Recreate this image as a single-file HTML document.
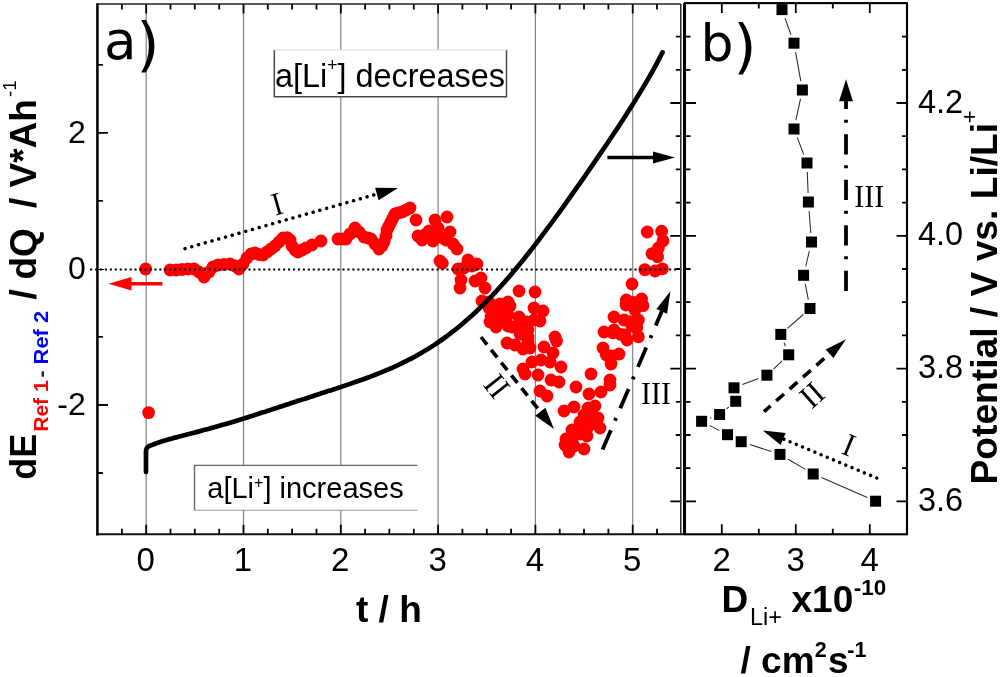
<!DOCTYPE html>
<html lang="en"><head><meta charset="utf-8"><title>Figure</title>
<style>html,body{margin:0;padding:0;background:#fff}body{width:1000px;height:677px;overflow:hidden}svg{display:block}svg text{white-space:pre}</style>
</head><body>
<svg width="1000" height="677" viewBox="0 0 1000 677" style="display:block">
<rect width="1000" height="677" fill="#fff"/>
<line x1="146.2" y1="4.0" x2="146.2" y2="534.3" stroke="#828282" stroke-width="1.2"/>
<line x1="243.5" y1="4.0" x2="243.5" y2="534.3" stroke="#828282" stroke-width="1.2"/>
<line x1="340.8" y1="4.0" x2="340.8" y2="534.3" stroke="#828282" stroke-width="1.2"/>
<line x1="438.1" y1="4.0" x2="438.1" y2="534.3" stroke="#828282" stroke-width="1.2"/>
<line x1="535.4" y1="4.0" x2="535.4" y2="534.3" stroke="#828282" stroke-width="1.2"/>
<line x1="632.7" y1="4.0" x2="632.7" y2="534.3" stroke="#828282" stroke-width="1.2"/>
<g fill="#f00">
<circle cx="145.6" cy="269.0" r="6.4"/>
<circle cx="148.6" cy="412.6" r="6.4"/>
<circle cx="170.0" cy="270.0" r="6.4"/>
<circle cx="176.0" cy="270.0" r="6.4"/>
<circle cx="182.0" cy="269.5" r="6.4"/>
<circle cx="188.0" cy="269.0" r="6.4"/>
<circle cx="194.0" cy="269.0" r="6.4"/>
<circle cx="199.0" cy="272.0" r="6.4"/>
<circle cx="204.0" cy="277.0" r="6.4"/>
<circle cx="209.0" cy="272.0" r="6.4"/>
<circle cx="213.0" cy="267.0" r="6.4"/>
<circle cx="218.0" cy="265.0" r="6.4"/>
<circle cx="224.0" cy="264.5" r="6.4"/>
<circle cx="230.0" cy="264.0" r="6.4"/>
<circle cx="235.0" cy="266.0" r="6.4"/>
<circle cx="239.0" cy="269.0" r="6.4"/>
<circle cx="243.0" cy="264.0" r="6.4"/>
<circle cx="247.0" cy="258.0" r="6.4"/>
<circle cx="251.0" cy="254.0" r="6.4"/>
<circle cx="255.0" cy="253.0" r="6.4"/>
<circle cx="259.0" cy="254.5" r="6.4"/>
<circle cx="263.0" cy="255.0" r="6.4"/>
<circle cx="267.0" cy="252.0" r="6.4"/>
<circle cx="271.0" cy="249.0" r="6.4"/>
<circle cx="275.0" cy="246.0" r="6.4"/>
<circle cx="279.0" cy="242.0" r="6.4"/>
<circle cx="283.0" cy="238.0" r="6.4"/>
<circle cx="287.0" cy="237.6" r="6.4"/>
<circle cx="290.0" cy="240.0" r="6.4"/>
<circle cx="292.0" cy="246.0" r="6.4"/>
<circle cx="295.0" cy="250.0" r="6.4"/>
<circle cx="298.0" cy="252.0" r="6.4"/>
<circle cx="302.0" cy="250.0" r="6.4"/>
<circle cx="306.0" cy="248.0" r="6.4"/>
<circle cx="312.0" cy="245.0" r="6.4"/>
<circle cx="321.0" cy="241.0" r="6.4"/>
<circle cx="338.0" cy="239.0" r="6.4"/>
<circle cx="342.0" cy="239.0" r="6.4"/>
<circle cx="346.0" cy="239.0" r="6.4"/>
<circle cx="350.0" cy="234.0" r="6.4"/>
<circle cx="355.0" cy="228.0" r="6.4"/>
<circle cx="359.0" cy="232.0" r="6.4"/>
<circle cx="364.0" cy="237.0" r="6.4"/>
<circle cx="368.0" cy="238.0" r="6.4"/>
<circle cx="371.0" cy="239.0" r="6.4"/>
<circle cx="375.0" cy="244.0" r="6.4"/>
<circle cx="379.0" cy="249.0" r="6.4"/>
<circle cx="382.0" cy="246.0" r="6.4"/>
<circle cx="384.0" cy="242.0" r="6.4"/>
<circle cx="386.0" cy="236.0" r="6.4"/>
<circle cx="387.0" cy="230.0" r="6.4"/>
<circle cx="389.0" cy="226.0" r="6.4"/>
<circle cx="391.0" cy="222.0" r="6.4"/>
<circle cx="393.0" cy="218.0" r="6.4"/>
<circle cx="395.0" cy="214.0" r="6.4"/>
<circle cx="398.0" cy="213.0" r="6.4"/>
<circle cx="402.0" cy="212.0" r="6.4"/>
<circle cx="406.0" cy="210.0" r="6.4"/>
<circle cx="410.0" cy="208.0" r="6.4"/>
<circle cx="416.0" cy="220.0" r="6.4"/>
<circle cx="418.0" cy="236.0" r="6.4"/>
<circle cx="422.0" cy="240.0" r="6.4"/>
<circle cx="426.0" cy="234.0" r="6.4"/>
<circle cx="432.0" cy="237.0" r="6.4"/>
<circle cx="435.0" cy="220.0" r="6.4"/>
<circle cx="438.0" cy="228.0" r="6.4"/>
<circle cx="447.0" cy="217.0" r="6.4"/>
<circle cx="450.0" cy="232.0" r="6.4"/>
<circle cx="443.0" cy="238.0" r="6.4"/>
<circle cx="446.0" cy="240.0" r="6.4"/>
<circle cx="453.0" cy="244.0" r="6.4"/>
<circle cx="457.0" cy="249.0" r="6.4"/>
<circle cx="440.0" cy="261.0" r="6.4"/>
<circle cx="458.0" cy="269.0" r="6.4"/>
<circle cx="464.0" cy="268.0" r="6.4"/>
<circle cx="468.0" cy="260.0" r="6.4"/>
<circle cx="472.0" cy="266.0" r="6.4"/>
<circle cx="477.0" cy="264.0" r="6.4"/>
<circle cx="461.0" cy="280.0" r="6.4"/>
<circle cx="460.0" cy="288.0" r="6.4"/>
<circle cx="475.0" cy="281.0" r="6.4"/>
<circle cx="481.0" cy="278.0" r="6.4"/>
<circle cx="485.0" cy="288.0" r="6.4"/>
<circle cx="482.0" cy="301.0" r="6.4"/>
<circle cx="489.0" cy="302.0" r="6.4"/>
<circle cx="489.0" cy="308.0" r="6.4"/>
<circle cx="500.0" cy="304.0" r="6.4"/>
<circle cx="508.0" cy="302.0" r="6.4"/>
<circle cx="510.0" cy="306.0" r="6.4"/>
<circle cx="519.0" cy="291.0" r="6.4"/>
<circle cx="535.0" cy="292.0" r="6.4"/>
<circle cx="494.0" cy="309.0" r="6.4"/>
<circle cx="494.0" cy="318.0" r="6.4"/>
<circle cx="502.0" cy="320.0" r="6.4"/>
<circle cx="519.0" cy="317.0" r="6.4"/>
<circle cx="496.0" cy="327.0" r="6.4"/>
<circle cx="508.0" cy="326.0" r="6.4"/>
<circle cx="517.0" cy="326.0" r="6.4"/>
<circle cx="534.0" cy="308.0" r="6.4"/>
<circle cx="543.0" cy="311.0" r="6.4"/>
<circle cx="540.0" cy="321.0" r="6.4"/>
<circle cx="528.0" cy="330.0" r="6.4"/>
<circle cx="528.0" cy="337.0" r="6.4"/>
<circle cx="555.0" cy="337.0" r="6.4"/>
<circle cx="507.0" cy="343.0" r="6.4"/>
<circle cx="515.0" cy="345.0" r="6.4"/>
<circle cx="523.0" cy="349.0" r="6.4"/>
<circle cx="530.0" cy="348.0" r="6.4"/>
<circle cx="544.0" cy="347.0" r="6.4"/>
<circle cx="553.0" cy="353.0" r="6.4"/>
<circle cx="532.0" cy="362.0" r="6.4"/>
<circle cx="541.0" cy="360.0" r="6.4"/>
<circle cx="550.0" cy="362.0" r="6.4"/>
<circle cx="561.0" cy="367.0" r="6.4"/>
<circle cx="523.0" cy="369.0" r="6.4"/>
<circle cx="538.0" cy="375.0" r="6.4"/>
<circle cx="551.0" cy="380.0" r="6.4"/>
<circle cx="559.0" cy="382.0" r="6.4"/>
<circle cx="540.0" cy="391.0" r="6.4"/>
<circle cx="547.0" cy="396.0" r="6.4"/>
<circle cx="576.0" cy="387.0" r="6.4"/>
<circle cx="591.0" cy="374.0" r="6.4"/>
<circle cx="589.0" cy="394.0" r="6.4"/>
<circle cx="564.0" cy="411.0" r="6.4"/>
<circle cx="574.0" cy="407.0" r="6.4"/>
<circle cx="601.0" cy="392.0" r="6.4"/>
<circle cx="610.0" cy="380.0" r="6.4"/>
<circle cx="611.0" cy="364.0" r="6.4"/>
<circle cx="612.0" cy="356.0" r="6.4"/>
<circle cx="603.0" cy="348.0" r="6.4"/>
<circle cx="619.0" cy="354.0" r="6.4"/>
<circle cx="604.0" cy="332.0" r="6.4"/>
<circle cx="614.0" cy="330.0" r="6.4"/>
<circle cx="625.0" cy="335.0" r="6.4"/>
<circle cx="614.0" cy="317.0" r="6.4"/>
<circle cx="624.0" cy="320.0" r="6.4"/>
<circle cx="632.0" cy="326.0" r="6.4"/>
<circle cx="626.0" cy="305.0" r="6.4"/>
<circle cx="635.0" cy="310.0" r="6.4"/>
<circle cx="588.0" cy="408.0" r="6.4"/>
<circle cx="595.0" cy="406.0" r="6.4"/>
<circle cx="584.0" cy="415.0" r="6.4"/>
<circle cx="598.0" cy="418.0" r="6.4"/>
<circle cx="580.0" cy="422.0" r="6.4"/>
<circle cx="590.0" cy="424.0" r="6.4"/>
<circle cx="600.0" cy="428.0" r="6.4"/>
<circle cx="572.0" cy="430.0" r="6.4"/>
<circle cx="584.0" cy="432.0" r="6.4"/>
<circle cx="610.0" cy="385.0" r="6.4"/>
<circle cx="592.0" cy="416.0" r="6.4"/>
<circle cx="588.0" cy="427.0" r="6.4"/>
<circle cx="580.0" cy="434.0" r="6.4"/>
<circle cx="587.0" cy="436.0" r="6.4"/>
<circle cx="566.0" cy="439.0" r="6.4"/>
<circle cx="572.0" cy="440.0" r="6.4"/>
<circle cx="565.0" cy="445.0" r="6.4"/>
<circle cx="574.0" cy="446.0" r="6.4"/>
<circle cx="584.0" cy="449.0" r="6.4"/>
<circle cx="569.0" cy="452.0" r="6.4"/>
<circle cx="632.0" cy="284.0" r="6.4"/>
<circle cx="626.4" cy="300.0" r="6.4"/>
<circle cx="633.6" cy="302.4" r="6.4"/>
<circle cx="641.6" cy="299.0" r="6.4"/>
<circle cx="643.0" cy="305.6" r="6.4"/>
<circle cx="630.4" cy="321.6" r="6.4"/>
<circle cx="638.4" cy="320.0" r="6.4"/>
<circle cx="636.8" cy="328.0" r="6.4"/>
<circle cx="612.8" cy="332.8" r="6.4"/>
<circle cx="620.8" cy="334.4" r="6.4"/>
<circle cx="627.0" cy="340.0" r="6.4"/>
<circle cx="638.4" cy="336.8" r="6.4"/>
<circle cx="606.4" cy="355.0" r="6.4"/>
<circle cx="647.2" cy="232.0" r="6.4"/>
<circle cx="661.6" cy="231.2" r="6.4"/>
<circle cx="663.0" cy="240.8" r="6.4"/>
<circle cx="658.4" cy="248.0" r="6.4"/>
<circle cx="652.0" cy="253.6" r="6.4"/>
<circle cx="657.6" cy="256.8" r="6.4"/>
<circle cx="644.8" cy="269.6" r="6.4"/>
<circle cx="655.0" cy="271.0" r="6.4"/>
<circle cx="662.4" cy="268.8" r="6.4"/>
<circle cx="429.0" cy="231.0" r="6.4"/>
<circle cx="436.0" cy="236.0" r="6.4"/>
<circle cx="433.0" cy="241.0" r="6.4"/>
<circle cx="500.0" cy="312.0" r="6.4"/>
<circle cx="508.0" cy="315.0" r="6.4"/>
<circle cx="490.0" cy="322.0" r="6.4"/>
<circle cx="506.0" cy="322.0" r="6.4"/>
<circle cx="526.0" cy="322.0" r="6.4"/>
<circle cx="520.0" cy="334.0" r="6.4"/>
<circle cx="528.0" cy="342.0" r="6.4"/>
<circle cx="491.0" cy="317.0" r="6.4"/>
<circle cx="512.0" cy="327.0" r="6.4"/>
<circle cx="534.0" cy="320.0" r="6.4"/>
<circle cx="556.5" cy="341.0" r="6.4"/>
<circle cx="525.0" cy="374.0" r="6.4"/>
<circle cx="442.3" cy="263.2" r="6.4"/>
</g>
<path d="M146,472 L146,451 Q146,446.5 152.0,444.9 L152.0,444.9 C153.0,444.6 156.0,443.4 158.0,442.8 C160.0,442.1 162.0,441.4 164.0,440.8 C166.0,440.2 168.0,439.6 170.0,439.0 C172.0,438.5 174.0,437.9 176.0,437.4 C178.0,436.8 180.0,436.3 182.0,435.8 C184.0,435.2 186.0,434.7 188.0,434.2 C190.0,433.7 192.0,433.2 194.0,432.7 C196.0,432.1 198.0,431.6 200.0,431.1 C202.0,430.6 204.0,430.0 206.0,429.5 C208.0,429.0 210.0,428.4 212.0,427.9 C214.0,427.3 216.0,426.8 218.0,426.2 C220.0,425.6 222.0,425.1 224.0,424.5 C226.0,423.9 228.0,423.3 230.0,422.7 C232.0,422.1 234.0,421.5 236.0,420.9 C238.0,420.3 240.0,419.7 242.0,419.1 C244.0,418.4 246.0,417.8 248.0,417.2 C250.0,416.6 252.0,415.9 254.0,415.3 C256.0,414.6 258.0,414.0 260.0,413.3 C262.0,412.7 264.0,412.0 266.0,411.4 C268.0,410.7 270.0,410.1 272.0,409.4 C274.0,408.8 276.0,408.1 278.0,407.5 C280.0,406.8 282.0,406.2 284.0,405.5 C286.0,404.8 288.0,404.2 290.0,403.5 C292.0,402.9 294.0,402.2 296.0,401.6 C298.0,400.9 300.0,400.3 302.0,399.6 C304.0,399.0 306.0,398.3 308.0,397.7 C310.0,397.0 312.0,396.4 314.0,395.7 C316.0,395.1 318.0,394.4 320.0,393.8 C322.0,393.1 324.0,392.5 326.0,391.8 C328.0,391.2 330.0,390.5 332.0,389.9 C334.0,389.2 336.0,388.6 338.0,387.9 C340.0,387.3 342.0,386.6 344.0,385.9 C346.0,385.3 348.0,384.6 350.0,383.9 C352.0,383.2 354.0,382.5 356.0,381.8 C358.0,381.1 360.0,380.4 362.0,379.7 C364.0,379.0 366.0,378.3 368.0,377.5 C370.0,376.8 372.0,376.0 374.0,375.3 C376.0,374.5 378.0,373.7 380.0,372.9 C382.0,372.1 384.0,371.3 386.0,370.4 C388.0,369.6 390.0,368.7 392.0,367.8 C394.0,366.9 396.0,366.0 398.0,365.1 C400.0,364.2 402.0,363.2 404.0,362.2 C406.0,361.2 408.0,360.2 410.0,359.2 C412.0,358.1 414.0,357.1 416.0,356.0 C418.0,354.8 420.0,353.7 422.0,352.5 C424.0,351.4 426.0,350.2 428.0,348.9 C430.0,347.7 432.0,346.4 434.0,345.1 C436.0,343.8 438.0,342.4 440.0,341.0 C442.0,339.7 444.0,338.2 446.0,336.8 C448.0,335.3 450.0,333.8 452.0,332.2 C454.0,330.7 456.0,329.1 458.0,327.5 C460.0,325.8 462.0,324.2 464.0,322.5 C466.0,320.7 468.0,319.0 470.0,317.2 C472.0,315.4 474.0,313.6 476.0,311.7 C478.0,309.8 480.0,307.9 482.0,305.9 C484.0,303.9 486.0,301.9 488.0,299.9 C490.0,297.8 492.0,295.7 494.0,293.6 C496.0,291.5 498.0,289.3 500.0,287.1 C502.0,284.9 504.0,282.6 506.0,280.4 C508.0,278.1 510.0,275.8 512.0,273.4 C514.0,271.0 516.0,268.7 518.0,266.2 C520.0,263.8 522.0,261.3 524.0,258.9 C526.0,256.4 528.0,253.9 530.0,251.3 C532.0,248.8 534.0,246.2 536.0,243.6 C538.0,241.0 540.0,238.3 542.0,235.7 C544.0,233.0 546.0,230.4 548.0,227.7 C550.0,225.0 552.0,222.3 554.0,219.5 C556.0,216.8 558.0,214.0 560.0,211.3 C562.0,208.5 564.0,205.7 566.0,202.9 C568.0,200.1 570.0,197.3 572.0,194.4 C574.0,191.6 576.0,188.8 578.0,185.9 C580.0,183.1 582.0,180.2 584.0,177.3 C586.0,174.4 588.0,171.6 590.0,168.7 C592.0,165.8 594.0,162.9 596.0,159.9 C598.0,157.0 600.0,154.1 602.0,151.1 C604.0,148.2 606.0,145.2 608.0,142.3 C610.0,139.3 612.0,136.3 614.0,133.3 C616.0,130.3 618.0,127.3 620.0,124.2 C622.0,121.2 624.0,118.1 626.0,115.0 C628.0,111.9 630.0,108.7 632.0,105.6 C634.0,102.4 636.0,99.2 638.0,95.9 C640.0,92.6 642.0,89.3 644.0,85.9 C646.0,82.6 648.0,79.1 650.0,75.6 C652.0,72.1 654.0,68.5 656.0,64.8 C658.0,61.1 660.9,55.4 662.0,53.4 C663.1,51.3 662.3,52.7 662.4,52.6" fill="none" stroke="#000" stroke-width="4.7" stroke-linejoin="round" stroke-linecap="round"/>
<line x1="90" y1="269.5" x2="679" y2="269.5" stroke="#000" stroke-width="2.0" stroke-dasharray="2.1 2.85"/>
<line x1="97" y1="269.5" x2="104" y2="269.5" stroke="#000" stroke-width="1"/>
<rect x="274.3" y="50" width="232.2" height="46.7" fill="#fff"/>
<path d="M274.3,50 V96.7 H506.5 V50" fill="none" stroke="#4a4a4a" stroke-width="1.5"/>
<path d="M274.3,50 H506.5" fill="none" stroke="#ddd" stroke-width="1"/>
<text x="275" y="86.9" font-family="'Liberation Sans',sans-serif" font-size="32.4">a[Li<tspan font-size="17.5" dy="-15.5">+</tspan><tspan dy="15.5">] decreases</tspan></text>
<rect x="194.5" y="465.4" width="223" height="44.6" fill="#fff"/>
<path d="M417.5,465.4 H194.5 V510.3" fill="none" stroke="#666" stroke-width="1.4"/>
<path d="M194.5,510.3 H417.5" fill="none" stroke="#999" stroke-width="1.1"/>
<text x="207.3" y="497.8" font-family="'Liberation Sans',sans-serif" font-size="29">a[Li<tspan font-size="16" dy="-10">+</tspan><tspan dy="10">] increases</tspan></text>
<path d="M121.9,534.3 v-5.5 M121.9,4.0 v5.5 M146.2,534.3 v-9.5 M146.2,4.0 v9.5 M170.5,534.3 v-5.5 M170.5,4.0 v5.5 M194.8,534.3 v-5.5 M194.8,4.0 v5.5 M219.2,534.3 v-5.5 M219.2,4.0 v5.5 M243.5,534.3 v-9.5 M243.5,4.0 v9.5 M267.8,534.3 v-5.5 M267.8,4.0 v5.5 M292.1,534.3 v-5.5 M292.1,4.0 v5.5 M316.5,534.3 v-5.5 M316.5,4.0 v5.5 M340.8,534.3 v-9.5 M340.8,4.0 v9.5 M365.1,534.3 v-5.5 M365.1,4.0 v5.5 M389.4,534.3 v-5.5 M389.4,4.0 v5.5 M413.8,534.3 v-5.5 M413.8,4.0 v5.5 M438.1,534.3 v-9.5 M438.1,4.0 v9.5 M462.4,534.3 v-5.5 M462.4,4.0 v5.5 M486.8,534.3 v-5.5 M486.8,4.0 v5.5 M511.1,534.3 v-5.5 M511.1,4.0 v5.5 M535.4,534.3 v-9.5 M535.4,4.0 v9.5 M559.7,534.3 v-5.5 M559.7,4.0 v5.5 M584.0,534.3 v-5.5 M584.0,4.0 v5.5 M608.4,534.3 v-5.5 M608.4,4.0 v5.5 M632.7,534.3 v-9.5 M632.7,4.0 v9.5 M657.0,534.3 v-5.5 M657.0,4.0 v5.5 M97.4,64.8 h5.5 M97.4,132.8 h10.5 M97.4,200.8 h5.5 M97.4,336.9 h5.5 M97.4,405.0 h10.5 M97.4,473.0 h5.5 M680.8,501.4 h-10.5 M685.0,501.4 h11.0 M907.0,501.4 h-10.5 M680.8,468.2 h-5 M685.0,468.2 h5.5 M907.0,468.2 h-5 M680.8,435.0 h-5 M685.0,435.0 h5.5 M907.0,435.0 h-5 M680.8,401.8 h-5 M685.0,401.8 h5.5 M907.0,401.8 h-5 M680.8,368.6 h-10.5 M685.0,368.6 h11.0 M907.0,368.6 h-10.5 M680.8,335.4 h-5 M685.0,335.4 h5.5 M907.0,335.4 h-5 M680.8,302.2 h-5 M685.0,302.2 h5.5 M907.0,302.2 h-5 M680.8,269.0 h-5 M685.0,269.0 h5.5 M907.0,269.0 h-5 M680.8,235.8 h-10.5 M685.0,235.8 h11.0 M907.0,235.8 h-10.5 M680.8,202.6 h-5 M685.0,202.6 h5.5 M907.0,202.6 h-5 M680.8,169.4 h-5 M685.0,169.4 h5.5 M907.0,169.4 h-5 M680.8,136.2 h-5 M685.0,136.2 h5.5 M907.0,136.2 h-5 M680.8,103.0 h-10.5 M685.0,103.0 h11.0 M907.0,103.0 h-10.5 M680.8,69.8 h-5 M685.0,69.8 h5.5 M907.0,69.8 h-5 M680.8,36.6 h-5 M685.0,36.6 h5.5 M907.0,36.6 h-5 M721.8,534.3 v-10 M721.8,3.1 v10 M758.8,534.3 v-5.5 M758.8,3.1 v5.5 M795.8,534.3 v-10 M795.8,3.1 v10 M832.8,534.3 v-5.5 M832.8,3.1 v5.5 M869.8,534.3 v-10 M869.8,3.1 v10" stroke="#000" stroke-width="1.8" fill="none"/>
<path d="M785.0,18.1 L791.0,34.7 M795.6,52.1 L800.8,81.1 M800.5,98.8 L795.9,120.2 M797.2,137.4 L803.8,154.6 M807.3,172.0 L808.1,193.0 M809.1,211.0 L810.8,233.0 M809.4,250.8 L805.7,266.5 M805.3,284.1 L808.3,299.7 M803.3,314.5 L787.5,328.4 M784.1,342.8 L785.4,346.4 M782.1,360.9 L773.5,369.1 M758.5,378.4 L742.4,384.6 M728.7,407.0 L726.6,408.8 M711.2,417.7 L710.0,418.1 M709.6,425.4 L719.5,430.6 M749.8,444.5 L771.4,451.6 M787.8,459.0 L805.4,469.4 M821.5,477.6 L867.3,497.6" fill="none" stroke="#2a2a2a" stroke-width="1.05"/>
<rect x="776.5" y="4.1" width="11" height="11" fill="#000"/>
<rect x="788.5" y="37.7" width="11" height="11" fill="#000"/>
<rect x="796.9" y="84.5" width="11" height="11" fill="#000"/>
<rect x="788.5" y="123.5" width="11" height="11" fill="#000"/>
<rect x="801.5" y="157.5" width="11" height="11" fill="#000"/>
<rect x="802.9" y="196.5" width="11" height="11" fill="#000"/>
<rect x="806.0" y="236.5" width="11" height="11" fill="#000"/>
<rect x="798.1" y="269.8" width="11" height="11" fill="#000"/>
<rect x="804.5" y="303.0" width="11" height="11" fill="#000"/>
<rect x="775.3" y="328.9" width="11" height="11" fill="#000"/>
<rect x="783.2" y="349.3" width="11" height="11" fill="#000"/>
<rect x="761.4" y="369.7" width="11" height="11" fill="#000"/>
<rect x="728.5" y="382.3" width="11" height="11" fill="#000"/>
<rect x="730.2" y="395.8" width="11" height="11" fill="#000"/>
<rect x="714.1" y="409.0" width="11" height="11" fill="#000"/>
<rect x="696.1" y="415.8" width="11" height="11" fill="#000"/>
<rect x="722.0" y="429.2" width="11" height="11" fill="#000"/>
<rect x="735.7" y="436.2" width="11" height="11" fill="#000"/>
<rect x="774.5" y="448.9" width="11" height="11" fill="#000"/>
<rect x="807.7" y="468.5" width="11" height="11" fill="#000"/>
<rect x="870.1" y="495.7" width="11" height="11" fill="#000"/>
<path d="M97.4,535.4 V3.2" stroke="#000" stroke-width="2.5" fill="none"/>
<path d="M97.4,4.0 H680.8" stroke="#222" stroke-width="1.6" fill="none"/>
<path d="M96.10000000000001,534.3 H685.0" stroke="#111" stroke-width="2.1" fill="none"/>
<path d="M680.8,4.0 V534.3" stroke="#333" stroke-width="1.6" fill="none"/>
<rect x="685.0" y="3.1" width="222.0" height="531.1999999999999" fill="none" stroke="#000" stroke-width="2.1"/>
<path d="M684.5,3.1 V534.3" stroke="#000" stroke-width="3.0" fill="none"/>
<line x1="162.4" y1="283.8" x2="129.5" y2="283.8" stroke="#f00" stroke-width="3.5" stroke-linecap="butt"/>
<polygon points="108.5,283.8 131.5,277.1 131.5,290.5" fill="#f00"/>
<line x1="607.4" y1="157.6" x2="655.0" y2="157.6" stroke="#000" stroke-width="3.5" stroke-linecap="butt"/>
<polygon points="675.0,157.6 653.0,163.6 653.0,151.6" fill="#000"/>
<line x1="185.0" y1="248.6" x2="378.8" y2="193.5" stroke="#000" stroke-width="3.5" stroke-linecap="round" stroke-dasharray="0.01 7.0" stroke-dashoffset="0"/>
<polygon points="398.0,188.0 378.6,200.3 375.1,187.8" fill="#000"/>
<line x1="481.0" y1="337.0" x2="541.6" y2="413.3" stroke="#000" stroke-width="3.6" stroke-linecap="butt" stroke-dasharray="9.7 6.6" stroke-dashoffset="0"/>
<polygon points="554.0,429.0 535.2,415.8 545.4,407.7" fill="#000"/>
<line x1="602.0" y1="451.0" x2="662.5" y2="309.6" stroke="#000" stroke-width="3.8" stroke-linecap="butt" stroke-dasharray="21 10.5 3 10.5" stroke-dashoffset="-1.5"/>
<polygon points="670.4,291.2 667.1,313.7 656.4,309.1" fill="#000"/>
<line x1="846.0" y1="291.0" x2="846.0" y2="99.2" stroke="#000" stroke-width="3.8" stroke-linecap="butt" stroke-dasharray="20.3 11.5 3 10.7" stroke-dashoffset="0"/>
<polygon points="846.0,79.2 852.9,101.2 839.1,101.2" fill="#000"/>
<line x1="764.0" y1="411.7" x2="831.0" y2="352.4" stroke="#000" stroke-width="3.6" stroke-linecap="butt" stroke-dasharray="10.4 7.5" stroke-dashoffset="1.6"/>
<polygon points="846.0,339.2 833.4,358.1 825.7,349.4" fill="#000"/>
<line x1="876.8" y1="478.0" x2="781.3" y2="438.1" stroke="#000" stroke-width="3.5" stroke-linecap="round" stroke-dasharray="0.01 6.7" stroke-dashoffset="0"/>
<polygon points="762.8,430.4 785.6,432.9 780.6,444.9" fill="#000"/>
<text transform="translate(277,204) rotate(-16) scale(0.92,1)" x="0" y="10.8" text-anchor="middle" font-family="'Liberation Serif',serif" font-size="32.5">I</text>
<text transform="translate(497,386) rotate(51.6) scale(0.92,1)" x="0" y="10.8" text-anchor="middle" font-family="'Liberation Serif',serif" font-size="32.5">II</text>
<text transform="translate(656,393.2) rotate(0) scale(0.92,1)" x="0" y="10.8" text-anchor="middle" font-family="'Liberation Serif',serif" font-size="32.5">III</text>
<text transform="translate(869.3,196.3) rotate(0) scale(0.92,1)" x="0" y="10.8" text-anchor="middle" font-family="'Liberation Serif',serif" font-size="32.5">III</text>
<text transform="translate(812,395) rotate(-41.5) scale(0.92,1)" x="0" y="10.8" text-anchor="middle" font-family="'Liberation Serif',serif" font-size="32.5">II</text>
<text transform="translate(849,445) rotate(22.7) scale(0.92,1)" x="0" y="10.8" text-anchor="middle" font-family="'Liberation Serif',serif" font-size="32.5">I</text>
<text x="104" y="58.8" font-family="'DejaVu Sans','Liberation Sans',sans-serif" font-size="53">a<tspan font-size="59" dy="6" dx="0">)</tspan></text>
<text x="700.5" y="60.5" font-family="'DejaVu Sans','Liberation Sans',sans-serif" font-size="52">b<tspan font-size="59" dy="6" dx="0">)</tspan></text>
<text x="145.7" y="571.3" text-anchor="middle" font-family="'Liberation Sans',sans-serif" font-size="33">0</text>
<text x="243.0" y="571.3" text-anchor="middle" font-family="'Liberation Sans',sans-serif" font-size="33">1</text>
<text x="340.3" y="571.3" text-anchor="middle" font-family="'Liberation Sans',sans-serif" font-size="33">2</text>
<text x="437.6" y="571.3" text-anchor="middle" font-family="'Liberation Sans',sans-serif" font-size="33">3</text>
<text x="534.9" y="571.3" text-anchor="middle" font-family="'Liberation Sans',sans-serif" font-size="33">4</text>
<text x="632.2" y="571.3" text-anchor="middle" font-family="'Liberation Sans',sans-serif" font-size="33">5</text>
<text x="85.8" y="142.8" text-anchor="end" font-family="'Liberation Sans',sans-serif" font-size="32">2</text>
<text x="85.8" y="278.9" text-anchor="end" font-family="'Liberation Sans',sans-serif" font-size="32">0</text>
<text x="85.8" y="415.0" text-anchor="end" font-family="'Liberation Sans',sans-serif" font-size="32">-2</text>
<text x="721.8" y="571.3" text-anchor="middle" font-family="'Liberation Sans',sans-serif" font-size="33">2</text>
<text x="795.8" y="571.3" text-anchor="middle" font-family="'Liberation Sans',sans-serif" font-size="33">3</text>
<text x="869.8" y="571.3" text-anchor="middle" font-family="'Liberation Sans',sans-serif" font-size="33">4</text>
<text x="918" y="510.9" font-family="'Liberation Sans',sans-serif" font-size="32.5">3.6</text>
<text x="918" y="378.1" font-family="'Liberation Sans',sans-serif" font-size="32.5">3.8</text>
<text x="918" y="245.3" font-family="'Liberation Sans',sans-serif" font-size="32.5">4.0</text>
<text x="918" y="112.5" font-family="'Liberation Sans',sans-serif" font-size="32.5">4.2</text>
<text x="356" y="621.6" font-family="'Liberation Sans',sans-serif" font-size="37" font-weight="bold">t / h</text>
<g transform="translate(36,479) rotate(-90)" font-family="'Liberation Sans',sans-serif" font-weight="bold">
<text x="-0.7" y="0" font-size="36">dE</text>
<text x="47.2" y="12.4" font-size="21" fill="#f00" textLength="51.5" lengthAdjust="spacingAndGlyphs">Ref 1</text>
<text x="101.6" y="12.4" font-size="21" fill="#222">-</text>
<text x="114.6" y="12.4" font-size="21" fill="#00f" textLength="53.5" lengthAdjust="spacingAndGlyphs">Ref 2</text>
<text x="179.5" y="0" font-size="37">/</text>
<text x="199.5" y="0" font-size="37">dQ</text>
<text x="271" y="0" font-size="37">/</text>
<text x="291.5" y="0" font-size="37">V*Ah</text>
<text x="382" y="-20" font-size="18.5" font-weight="normal">-1</text>
</g>
<g transform="translate(997.4,482) rotate(-90)" font-family="'Liberation Sans',sans-serif" font-weight="bold">
<text x="-2.5" y="0" font-size="37.2">Potential / V vs. Li/Li</text>
<text x="358.8" y="-20.5" font-size="22" font-weight="normal">+</text>
</g>
<g font-family="'Liberation Sans',sans-serif" font-weight="bold">
<text x="721.5" y="612" font-size="37">D</text>
<text x="750" y="625.3" font-size="23.5" font-weight="normal">Li+</text>
<text x="791.5" y="612" font-size="37">x10</text>
<text x="853.8" y="594.8" font-size="22.5">-10</text>
<text x="740.5" y="673" font-size="37">/ cm</text>
<text x="814.8" y="657" font-size="21.5">2</text>
<text x="828" y="673" font-size="37">s</text>
<text x="847.3" y="657" font-size="21.5">-1</text>
</g>
</svg>
</body></html>
